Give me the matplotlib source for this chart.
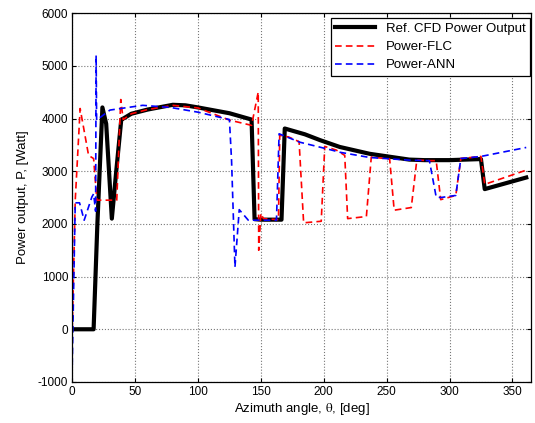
import matplotlib
matplotlib.use("Agg")
import matplotlib.pyplot as plt

plt.rcParams['font.family'] = ['Liberation Sans', 'DejaVu Sans']
plt.rcParams['mathtext.fontset'] = 'stix'
plt.rcParams['axes.unicode_minus'] = False

# Ref. CFD power output (black)
cfd_theta = [0, 17, 20, 24, 27, 31.5, 35, 39, 40.7, 47, 60, 80, 90, 100, 125, 142.6, 145,
             150, 160, 166.4, 169, 185, 197, 212.7, 236.5, 268, 280, 300, 325, 328, 361]
cfd_power = [0, 0, 2000, 4210, 3900, 2100, 3000, 3980, 4000, 4090, 4170, 4260, 4250, 4210, 4100, 3980, 2090,
             2080, 2080, 2080, 3810, 3700, 3590, 3460, 3330, 3220, 3210, 3210, 3230, 2660, 2880]

# Power-FLC (red)
flc_theta = [0, 2.4, 6.3, 13, 17, 19.6, 35.4, 38.6, 40.5, 47, 60, 80, 100, 125, 142.6, 147.9, 148.3,
             150, 152, 164, 165, 172, 180.4, 184, 198, 200.8, 210, 216.7, 219, 233.9, 237.8, 245,
             252.4, 256, 269.6, 274, 285, 289.4, 293, 305, 309, 325, 328, 361]
flc_power = [0, 2450, 4190, 3300, 3240, 2450, 2450, 4360, 3980, 4090, 4170, 4250, 4200, 3970, 3870, 4500, 1500,
             2200, 2100, 2080, 3680, 3650, 3560, 2020, 2050, 3470, 3400, 3300, 2100, 2140, 3270, 3250,
             3230, 2260, 2310, 3210, 3200, 3200, 2460, 2540, 3240, 3280, 2750, 3020]

# Power-ANN (blue)
ann_theta = [0, 2.4, 5.8, 9.5, 15.6, 17, 18.6, 19, 19.4, 30, 56, 78, 100, 125, 126.7, 129.4,
             132.8, 140, 162.4, 164.5, 181, 204.8, 212.7, 236.5, 268, 284, 289.4, 293, 305, 309, 325, 361]
ann_power = [-680, 2400, 2400, 2070, 2510, 2570, 2240, 5200, 3970, 4160, 4250, 4210, 4120, 3980, 3200, 1180,
             2270, 2070, 2070, 3710, 3550, 3410, 3360, 3260, 3210, 3200, 2510, 2500, 2540, 3240, 3280, 3450]

fig = plt.figure(figsize=(5.35, 4.23), dpi=100)
ax = fig.add_axes([0.135, 0.097, 0.858, 0.872])

ax.plot(cfd_theta, cfd_power, color='black', lw=3.0, label='Ref. CFD Power Output')
ax.plot(flc_theta, flc_power, color='red', lw=1.2, ls=(0, (4, 2.5)), label='Power-FLC')
ax.plot(ann_theta, ann_power, color='blue', lw=1.2, ls=(0, (4, 2.5)), label='Power-ANN')

ax.set_xlim(0, 365)
ax.set_ylim(-1000, 6000)
ax.set_xticks(range(0, 351, 50))
ax.set_yticks(range(-1000, 6001, 1000))
ax.grid(True, color='#777777', ls=':', lw=0.8)
ax.tick_params(direction='in', labelsize=8.5, length=3, top=True, right=True, pad=3)
for s in ax.spines.values():
    s.set_linewidth(0.9)

ax.set_xlabel(r'Azimuth angle, $\mathrm{\theta}$, [deg]', fontsize=9.5, labelpad=2)
ax.set_ylabel('Power output, P, [Watt]', fontsize=9.5, labelpad=6)

leg = ax.legend(loc='upper right', bbox_to_anchor=(1.0, 0.99), fontsize=9.5, fancybox=False,
                framealpha=1, edgecolor='black', handlelength=3.0, borderpad=0.35,
                labelspacing=0.45, handletextpad=0.8, borderaxespad=0.1)
leg.get_frame().set_linewidth(0.9)

fig.savefig('out.png', dpi=100)
